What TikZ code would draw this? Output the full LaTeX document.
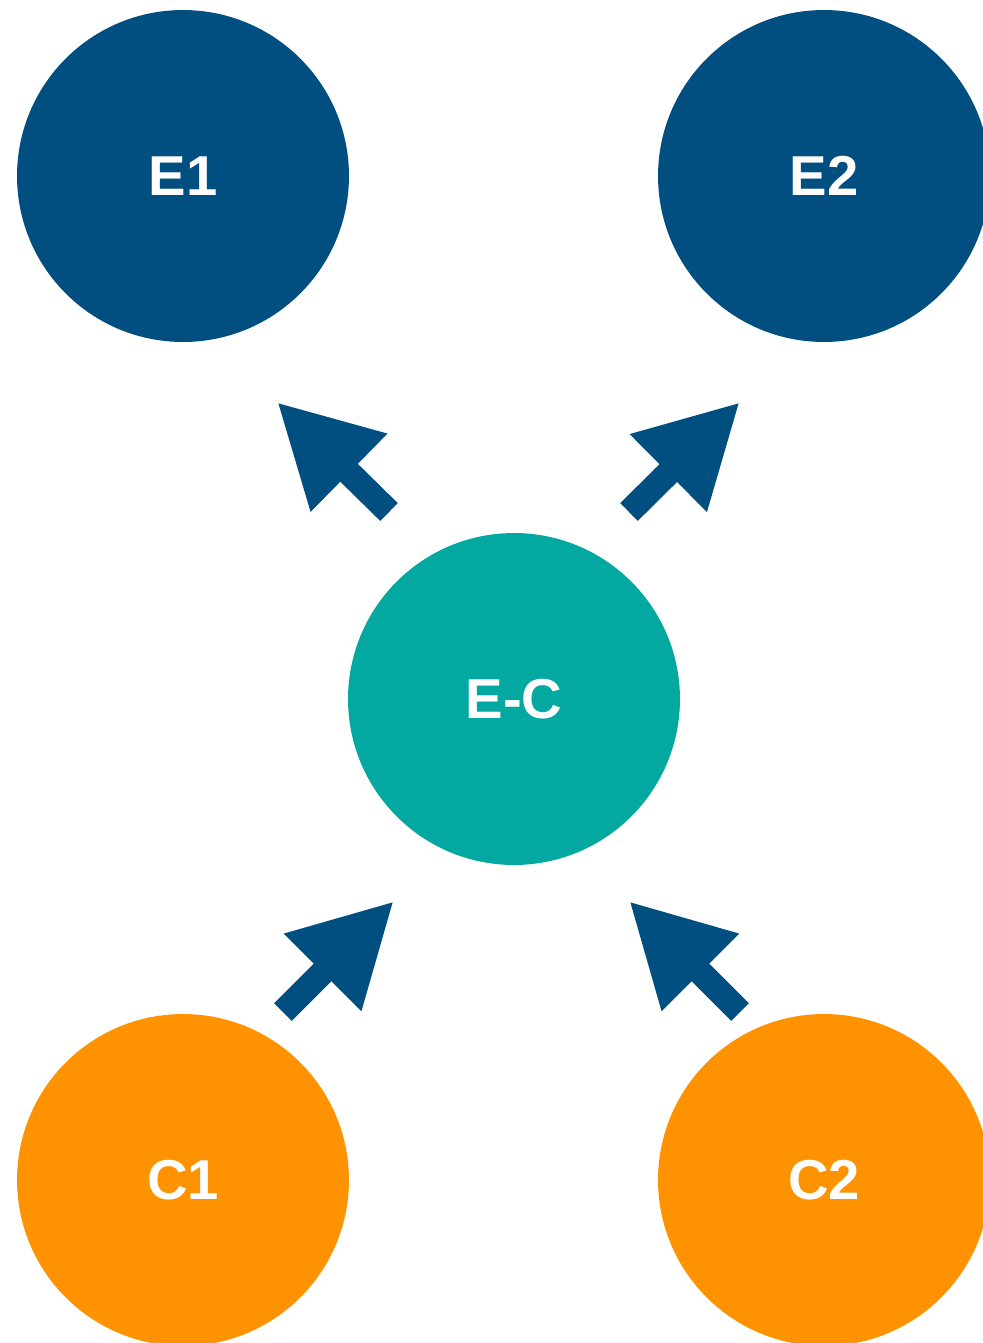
\documentclass[tikz,border=0pt]{standalone}
\usepackage{fontspec}
\setmainfont{Liberation Sans}
\usetikzlibrary{arrows.meta}
\definecolor{eblue}{HTML}{004F80}
\definecolor{ecteal}{HTML}{03A9A0}
\definecolor{corange}{HTML}{FF9200}

\begin{document}
\begin{tikzpicture}[x=0.02cm, y=-0.02cm,
		node_style/.style={circle,minimum size=6.64cm,inner sep=0pt,text=white,font=\fontsize{32}{32}\selectfont\bfseries},
		e_style/.style={node_style,fill=eblue},
		ec_style/.style={node_style,fill=ecteal},
		c_style/.style={node_style,fill=corange},
		edge_style/.style={draw=eblue,line width=0.5cm,
			-{Triangle[length=2.02cm,width=2.04cm]}}]

		\useasboundingbox (0,0) rectangle (983,1343);
		\begin{scope}
		\clip (0,0) rectangle (983,1343);

		\node[e_style] (n0) at (183,176)  {E1};
		\node[e_style] (n1) at (824,176)  {E2};
		\node[ec_style] (n2) at (514,699)  {E-C};
		\node[c_style] (n3) at (183,1180)  {C1};
		\node[c_style] (n4) at (824,1180)  {C2};
		\end{scope}

		\coordinate (t0) at (389,512);
		\coordinate (h0) at (277,402);
		\coordinate (t1) at (629,512);
		\coordinate (h1) at (740,402);
		\coordinate (t2) at (283,1012);
		\coordinate (h2) at (394,901);
		\coordinate (t3) at (740,1012);
		\coordinate (h3) at (629,901);

		\draw[edge_style]  (t0) -- (h0);
		\draw[edge_style]  (t1) -- (h1);
		\draw[edge_style]  (t2) -- (h2);
		\draw[edge_style]  (t3) -- (h3);
\end{tikzpicture}
\end{document}
